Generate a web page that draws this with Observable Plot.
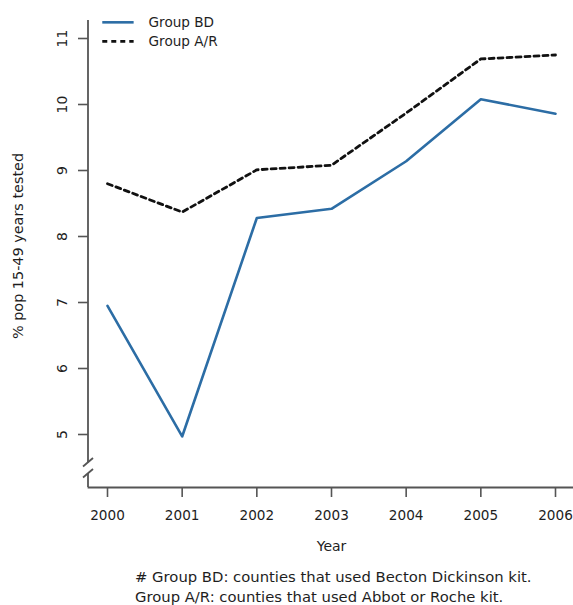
<!DOCTYPE html>
<html>
<head>
<meta charset="utf-8">
<script src="https://cdn.jsdelivr.net/npm/d3@7"></script>
<script src="https://cdn.jsdelivr.net/npm/@observablehq/plot@0.6"></script>
<style>
  html, body { margin: 0; padding: 0; background: #fff; }
  #chart svg { display: block; }
  .caption { font-family: "DejaVu Sans", sans-serif; font-size: 14.8px; line-height: 20px; color: #1e1e1e; padding-left: 135px; margin-top: 7px; white-space: nowrap; }
</style>
</head>
<body>
<div id="chart"></div>
<div class="caption"># Group BD: counties that used Becton Dickinson kit.<br>Group A/R: counties that used Abbot or Roche kit.</div>
<script>
const years = [2000, 2001, 2002, 2003, 2004, 2005, 2006];
const groupBD = [6.95, 4.97, 8.28, 8.42, 9.14, 10.08, 9.86];
const groupAR = [8.80, 8.37, 9.01, 9.08, 9.87, 10.69, 10.75];
const yTicks = [5, 6, 7, 8, 9, 10, 11];
const seriesNames = ["Group BD", "Group A/R"];

const blue = "#2c6da5";
const dark = "#111";
const axisColor = "#555";
const textColor = "#1e1e1e";
const font = "DejaVu Sans, sans-serif";
const dash = "5,4";

const rows = [
  ...years.map((year, i) => ({ series: seriesNames[0], year, value: groupBD[i] })),
  ...years.map((year, i) => ({ series: seriesNames[1], year, value: groupAR[i] }))
];

// y-axis line with a break near the bottom, drawn from the plot's dimensions
function yAxisWithBreak(index, scales, values, dims) {
  const g = d3.create("svg:g").attr("stroke", axisColor).attr("stroke-width", 1.8).attr("fill", "none");
  const x = dims.marginLeft;
  const bottom = dims.height - dims.marginBottom;
  g.append("line").attr("x1", x).attr("x2", x).attr("y1", dims.marginTop).attr("y2", bottom - 24.5);
  g.append("line").attr("x1", x).attr("x2", x).attr("y1", bottom - 14).attr("y2", bottom);
  for (const off of [25, 14]) {
    g.append("line").attr("x1", x - 5).attr("y1", bottom - off + 4.5).attr("x2", x + 5).attr("y2", bottom - off - 4);
  }
  return g.node();
}

const legendY = (d, i) => 11.245 - i * 0.29;

const chart = Plot.plot({
  width: 573,
  height: 560,
  marginLeft: 88,
  marginRight: 0,
  marginTop: 20,
  marginBottom: 73,
  style: { fontFamily: font, color: textColor, background: "#fff" },
  x: { domain: [2000, 2006], insetLeft: 19, insetRight: 18 },
  y: { domain: [5, 11], insetTop: 18, insetBottom: 53 },
  marks: [
    Plot.frame({ anchor: "bottom", stroke: axisColor, strokeWidth: 1.8 }),
    yAxisWithBreak,
    Plot.axisX({ ticks: years, tickFormat: d => String(d), tickSize: 10, tickPadding: 13, fontSize: 13.6, label: null, stroke: axisColor, strokeWidth: 1.6, fill: textColor }),
    Plot.axisY({ ticks: yTicks, tickSize: 10, tickFormat: () => "", label: null, stroke: axisColor, strokeWidth: 1.6 }),
    Plot.text(yTicks, { y: d => d, text: d => String(d), frameAnchor: "left", textAnchor: "middle", dx: -26, rotate: -90, fontSize: 14, fill: textColor }),
    Plot.text(["Year"], { x: 2003, frameAnchor: "bottom", dy: 63, fontSize: 14, fill: textColor }),
    Plot.text(["% pop 15-49 years tested"], { frameAnchor: "left", textAnchor: "middle", dx: -70, dy: -8, rotate: -90, fontSize: 14.4, fill: textColor }),
    Plot.line(rows.filter(d => d.series === seriesNames[1]), { x: "year", y: "value", stroke: dark, strokeWidth: 2.8, strokeDasharray: dash }),
    Plot.line(rows.filter(d => d.series === seriesNames[0]), { x: "year", y: "value", stroke: blue, strokeWidth: 2.6 }),
    // legend
    Plot.link([seriesNames[0]], { x1: 1999.93, x2: 2000.35, y1: legendY, y2: legendY, stroke: blue, strokeWidth: 2.6 }),
    Plot.link([seriesNames[1]], { x1: 1999.93, x2: 2000.35, y1: (d) => legendY(d, 1), y2: (d) => legendY(d, 1), stroke: dark, strokeWidth: 2.8, strokeDasharray: dash }),
    Plot.text(seriesNames, { x: 2000.55, y: legendY, text: d => d, textAnchor: "start", fontSize: 13.6, fill: textColor })
  ]
});
document.getElementById("chart").appendChild(chart);
</script>
</body>
</html>
